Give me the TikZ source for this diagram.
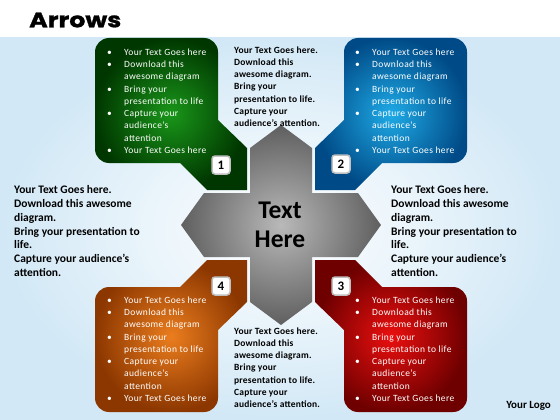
\documentclass[tikz,border=0pt]{standalone}
\usepackage{fontspec}
\setmainfont{Carlito}
\newfontfamily\titlefont[FakeStretch=1.2,FakeBold=1.2]{Poppins}
\definecolor{bgblue}{RGB}{210,232,246}
\definecolor{gin}{RGB}{25,150,25}
\definecolor{gout}{RGB}{0,55,0}
\definecolor{bin}{RGB}{30,170,230}
\definecolor{bout}{RGB}{0,75,135}
\definecolor{rin}{RGB}{235,15,15}
\definecolor{rout}{RGB}{110,0,0}
\definecolor{oin}{RGB}{235,125,30}
\definecolor{oout}{RGB}{140,55,0}
\definecolor{cin}{RGB}{185,185,185}
\definecolor{cout}{RGB}{95,95,95}
\newcommand\blistbody{%
\begin{tabular}[t]{@{}p{17pt}@{}l@{}}
\textbullet & Your Text Goes here\\
\textbullet & Download this\\
 & awesome diagram\\
\textbullet & Bring your\\
 & presentation to life\\
\textbullet & Capture your\\
 & audience’s\\
 & attention\\
\textbullet & Your Text Goes here
\end{tabular}}
\newcommand\midbody{%
\begin{tabular}[t]{@{}l@{}}
Your Text Goes here.\\
Download this\\
awesome diagram.\\
Bring your\\
presentation to life.\\
Capture your\\
audience’s attention.
\end{tabular}}
\newcommand\sidebody{%
\begin{tabular}[t]{@{}l@{}}
Your Text Goes here.\\
Download this awesome\\
diagram.\\
Bring your presentation to\\
life.\\
Capture your audience’s\\
attention.
\end{tabular}}
\begin{document}
\begin{tikzpicture}[x=1pt,y=-1pt,
  blist/.style={inner sep=0pt, anchor=north west, text=white, font=\fontsize{9.5}{12.25}\selectfont\addfontfeatures{LetterSpace=4}},
  midtxt/.style={inner sep=0pt, anchor=north west, font=\fontsize{9.5}{12.2}\selectfont\bfseries\addfontfeatures{LetterSpace=2}},
  sidetxt/.style={inner sep=0pt, anchor=north west, font=\fontsize{11.5}{13.8}\selectfont\bfseries},
  numbox/.style={fill=white, draw=black!25, line width=1.5pt, rounded corners=3pt, minimum size=18pt, inner sep=0pt, font=\fontsize{13}{13}\selectfont\bfseries}]
\useasboundingbox (0,0) rectangle (560,420);
\fill[white] (0,0) rectangle (560,38);
\shade[inner color=white, outer color=bgblue] (0,38) rectangle (560,420);
% title
\node[anchor=west, inner sep=0pt, font=\titlefont\bfseries\fontsize{21}{21}\selectfont] (title) at (29,20) {Arrows};
% central cross
\shade[inner color=cin, outer color=cout] (250,148) -- (281,125) -- (312,148) -- (312,193) -- (358,193) -- (381,225) -- (358,257) -- (312,257) -- (312,302) -- (281,325) -- (250,302) -- (250,257) -- (204,257) -- (181,225) -- (204,193) -- (250,193) -- cycle;
% green
\shade[inner color=gin, outer color=gout] (95,52) .. controls (95,44.3) and (101.3,38) .. (109,38) -- (204,38) .. controls (211.7,38) and (218,44.3) .. (218,52) -- (218,120) -- (247,148) -- (247,190) -- (207,190) -- (180,163) -- (109,163) .. controls (101.3,163) and (95,156.7) .. (95,149) -- cycle;
% blue
\shade[inner color=bin, outer color=bout] (467,52) .. controls (467,44.3) and (460.7,38) .. (453,38) -- (358,38) .. controls (350.3,38) and (344,44.3) .. (344,52) -- (344,120) -- (315,148) -- (315,190) -- (355,190) -- (382,163) -- (453,163) .. controls (460.7,163) and (467,156.7) .. (467,149) -- cycle;
% orange
\shade[inner color=oin, outer color=oout] (95,398) .. controls (95,405.7) and (101.3,412) .. (109,412) -- (204,412) .. controls (211.7,412) and (218,405.7) .. (218,398) -- (218,330) -- (247,302) -- (247,260) -- (207,260) -- (180,287) -- (109,287) .. controls (101.3,287) and (95,293.3) .. (95,301) -- cycle;
% red
\shade[inner color=rin, outer color=rout] (467,398) .. controls (467,405.7) and (460.7,412) .. (453,412) -- (358,412) .. controls (350.3,412) and (344,405.7) .. (344,398) -- (344,330) -- (315,302) -- (315,260) -- (355,260) -- (382,287) -- (453,287) .. controls (460.7,287) and (467,293.3) .. (467,301) -- cycle;
% bullet lists
\node[blist] (gl) at (107,46.5) {\blistbody};
\node[blist] (bl) at (355,46.5) {\blistbody};
\node[blist] (ol) at (107,294.5) {\blistbody};
\node[blist] (rl) at (355,294.5) {\blistbody};
% numbers
\node[numbox] (n1) at (221,165) {1};
\node[numbox] (n2) at (341,164) {2};
\node[numbox] (n3) at (341,286) {3};
\node[numbox] (n4) at (221,286) {4};
% center
\node[inner sep=0pt, font=\fontsize{25.5}{29}\selectfont\bfseries, align=center] (center) at (280,225) {Text\\Here};
% text blocks
\node[midtxt] (top) at (234,44.5) {\midbody};
\node[midtxt] (bot) at (234,325.5) {\midbody};
\node[sidetxt] (left) at (14,183.8) {\sidebody};
\node[sidetxt] (right) at (391,183.8) {\sidebody};
\node[anchor=east, inner sep=0pt, font=\fontsize{11}{11}\selectfont\bfseries] (logo) at (551,406) {Your Logo};
\end{tikzpicture}
\end{document}
